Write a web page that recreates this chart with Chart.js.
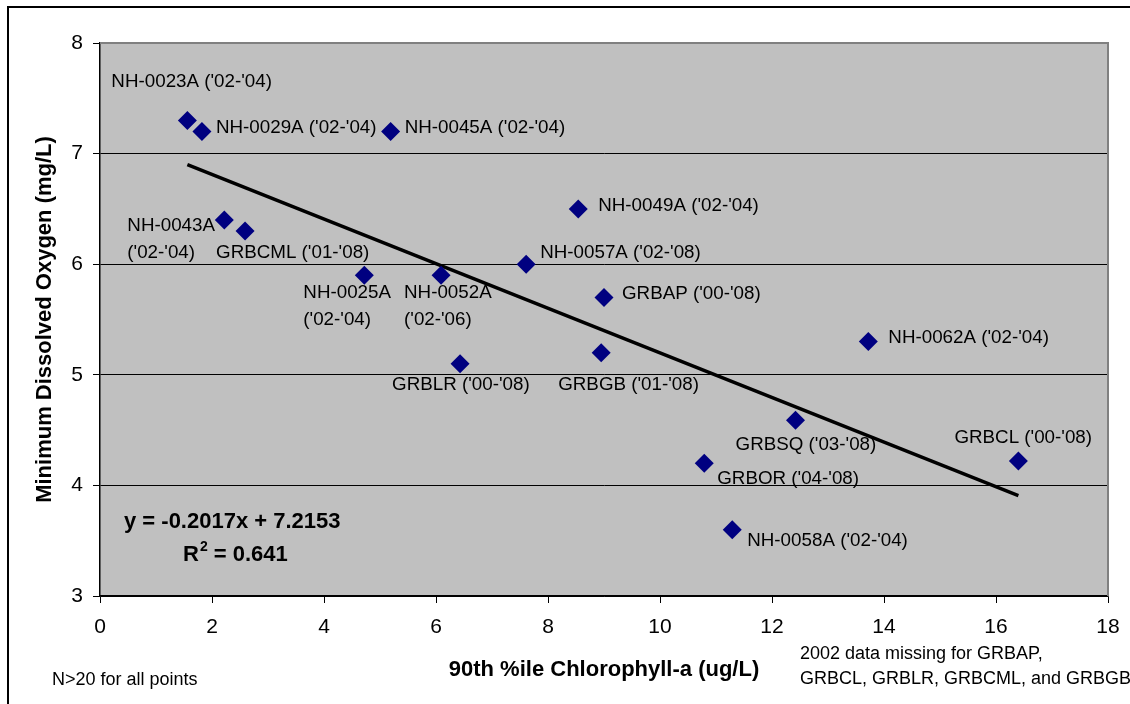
<!DOCTYPE html>
<html>
<head>
<meta charset="utf-8">
<script src="https://cdn.jsdelivr.net/npm/chart.js@4.4.0/dist/chart.umd.min.js"></script>
<style>
  html, body { margin: 0; padding: 0; background: #fff; }
  canvas { display: block; }
</style>
</head>
<body>
<canvas id="chart" width="1130" height="704"></canvas>
<script>
// station names (\n = line break in label)
const stations = [
  "NH-0023A ('02-'04)", "NH-0029A ('02-'04)", "NH-0045A ('02-'04)",
  "NH-0043A\n('02-'04)", "GRBCML ('01-'08)", "NH-0025A\n('02-'04)",
  "NH-0052A\n('02-'06)", "NH-0057A ('02-'08)", "NH-0049A ('02-'04)",
  "GRBAP ('00-'08)", "GRBLR ('00-'08)", "GRBGB ('01-'08)",
  "NH-0062A ('02-'04)", "GRBSQ ('03-'08)", "GRBOR ('04-'08)",
  "NH-0058A ('02-'04)", "GRBCL ('00-'08)"
];
// 90th %ile chlorophyll-a (ug/L)
const chlA = [1.56, 1.82, 5.19, 2.22, 2.59, 4.72, 6.09, 7.61, 8.54, 9.0, 6.43, 8.95, 13.72, 12.42, 10.79, 11.29, 16.4];
// minimum dissolved oxygen (mg/L)
const minDO = [7.3, 7.2, 7.2, 6.4, 6.3, 5.9, 5.9, 6.0, 6.5, 5.7, 5.1, 5.2, 5.3, 4.59, 4.2, 3.6, 4.22];

// linear trend, end points
const trendX = [1.56, 16.4];
const trendY = [6.90, 3.907];

const xTicks = [0, 2, 4, 6, 8, 10, 12, 14, 16, 18];
const yTicks = [3, 4, 5, 6, 7, 8];

const equationText = 'y = -0.2017x + 7.2153';
const r2Text = ' = 0.641';
const noteLeft = 'N>20 for all points';
const noteRight = ['2002 data missing for GRBAP,', 'GRBCL, GRBLR, GRBCML, and GRBGB'];

// where each label sits relative to its point (px): left edge, middle of first line
const labelOffsets = [
  [-76, -39], [14, -4], [14, -4], [-97, 6], [-29, 22], [-61, 18],
  [-37, 18], [14, -11], [20, -3], [18, -4], [-68, 21], [-43, 32],
  [20, -4], [-60, 25], [13, 16], [15, 11], [-64, -23]
];

const FONT = "'Liberation Sans', Arial, sans-serif";
Chart.defaults.font.family = FONT;
Chart.defaults.color = '#000';

const decor = {
  id: 'decor',
  beforeDraw(chart) {
    const { ctx, chartArea: a } = chart;
    ctx.save();
    ctx.fillStyle = '#fff';
    ctx.fillRect(0, 0, chart.width, chart.height);
    ctx.fillStyle = '#c0c0c0';
    ctx.fillRect(a.left, a.top, a.right - a.left, a.bottom - a.top);
    // outer frame
    ctx.strokeStyle = '#000';
    ctx.lineWidth = 2;
    ctx.strokeRect(8, 7, chart.width + 20, chart.height + 20);
    ctx.restore();
  },
  beforeDatasetsDraw(chart) {
    const { ctx, chartArea: a } = chart;
    ctx.save();
    ctx.strokeStyle = '#808080';
    ctx.lineWidth = 2;
    ctx.beginPath();
    ctx.moveTo(a.left, a.top);
    ctx.lineTo(a.right, a.top);
    ctx.lineTo(a.right, a.bottom);
    ctx.stroke();
    ctx.restore();
  },
  afterDraw(chart) {
    const { ctx, chartArea: a } = chart;
    const pts = chart.getDatasetMeta(0).data;
    ctx.save();
    ctx.fillStyle = '#000';
    ctx.textBaseline = 'middle';
    ctx.textAlign = 'left';
    ctx.font = '18.8px ' + FONT;
    pts.forEach((p, i) => {
      const [dx, dy] = labelOffsets[i];
      stations[i].split('\n').forEach((line, k) => {
        ctx.fillText(line, p.x + dx, p.y + dy + k * 27);
      });
    });

    // regression equation
    ctx.font = 'bold 22px ' + FONT;
    ctx.fillText(equationText, a.left + 24, a.top + 479);
    let x = a.left + 83;
    const y = a.top + 512;
    ctx.fillText('R', x, y);
    x += ctx.measureText('R').width;
    ctx.font = 'bold 14px ' + FONT;
    ctx.fillText('2', x + 1, y - 8);
    x += ctx.measureText('2').width + 1;
    ctx.font = 'bold 22px ' + FONT;
    ctx.fillText(r2Text, x, y);

    // notes
    ctx.font = '18px ' + FONT;
    ctx.fillText(noteLeft, 52, 680);
    noteRight.forEach((line, k) => ctx.fillText(line, 800, 654 + k * 25));
    ctx.restore();
  }
};

function noPad(scale) {
  scale.paddingLeft = 0;
  scale.paddingRight = 0;
  scale.paddingTop = 0;
  scale.paddingBottom = 0;
}

new Chart(document.getElementById('chart'), {
  type: 'scatter',
  data: {
    datasets: [
      {
        label: 'Min DO',
        data: chlA.map((v, i) => ({ x: v, y: minDO[i] })),
        pointStyle: 'rectRot',
        pointRadius: 9.5,
        pointBackgroundColor: '#000080',
        pointBorderColor: '#000080',
        pointBorderWidth: 0,
        order: 1
      },
      {
        type: 'line',
        label: 'Linear',
        data: trendX.map((v, i) => ({ x: v, y: trendY[i] })),
        borderColor: '#000',
        borderWidth: 3.5,
        pointRadius: 0,
        fill: false,
        order: 2
      }
    ]
  },
  options: {
    responsive: false,
    animation: false,
    layout: { padding: { top: 43, right: 22, left: 0, bottom: 0 } },
    plugins: { legend: { display: false }, tooltip: { enabled: false } },
    scales: {
      x: {
        type: 'linear',
        min: 0,
        max: 18,
        afterFit(scale) { scale.height = 108; noPad(scale); },
        afterBuildTicks(scale) { scale.ticks = xTicks.map(v => ({ value: v })); },
        ticks: { font: { size: 21 }, padding: 12, maxRotation: 0 },
        grid: { drawOnChartArea: false, drawTicks: true, tickLength: 7, tickColor: '#000' },
        border: { display: true, color: '#000', width: 1.5 },
        title: {
          display: true,
          text: '90th %ile Chlorophyll-a (ug/L)',
          font: { size: 22, weight: 'bold' },
          padding: { top: 0, bottom: 21 }
        }
      },
      y: {
        min: 3,
        max: 8,
        afterFit(scale) { scale.width = 100; noPad(scale); },
        afterBuildTicks(scale) { scale.ticks = yTicks.map(v => ({ value: v })); },
        ticks: { font: { size: 21 }, padding: 10 },
        grid: {
          color: c => (c.tick && c.tick.value === 8 ? '#808080' : '#000'),
          lineWidth: 1,
          tickLength: 7,
          tickColor: '#000'
        },
        border: { display: true, color: '#000', width: 1.5 },
        title: {
          display: true,
          text: 'Minimum Dissolved Oxygen (mg/L)',
          font: { size: 22, weight: 'bold' },
          padding: { top: 32, bottom: 0 }
        }
      }
    }
  },
  plugins: [decor]
});
</script>
</body>
</html>
